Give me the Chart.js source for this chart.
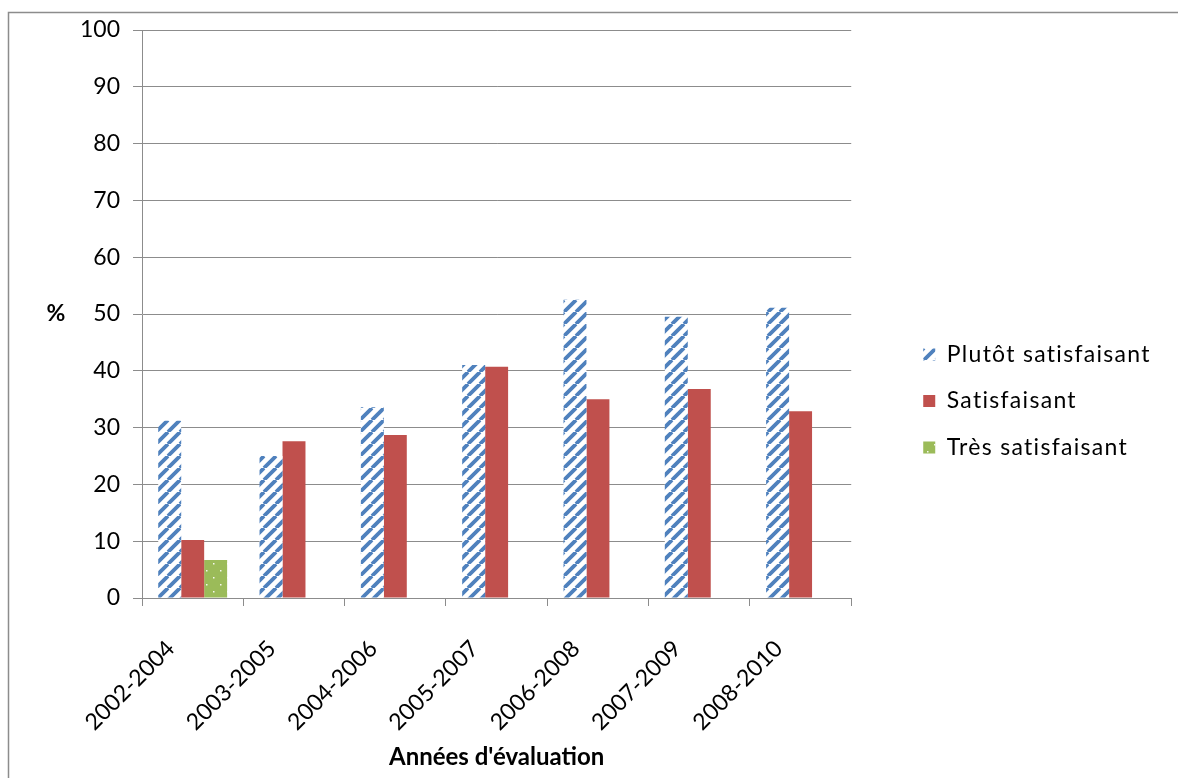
<!DOCTYPE html>
<html>
<head>
<meta charset="utf-8">
<script src="https://cdn.jsdelivr.net/npm/chart.js@4/dist/chart.umd.min.js"></script>
<style>
  html, body { margin: 0; padding: 0; background: #fff; }
  #wrap { width: 1178px; height: 778px; }
</style>
</head>
<body>
<div id="wrap"><canvas id="c" width="1178" height="778"></canvas></div>
<script>
// Evaluation periods and the share (%) of programmes in each rating
const categories = ['2002-2004', '2003-2005', '2004-2006', '2005-2007', '2006-2008', '2007-2009', '2008-2010'];
const plutotSatisfaisant = [31.2, 25.0, 33.6, 41.0, 52.5, 49.5, 51.1];
const satisfaisant = [10.2, 27.6, 28.7, 40.7, 35.0, 36.8, 32.9];
const tresSatisfaisant = [6.7, null, null, null, null, null, null];
const seriesNames = ['Plutôt satisfaisant', 'Satisfaisant', 'Très satisfaisant'];
const yTicks = [0, 10, 20, 30, 40, 50, 60, 70, 80, 90, 100];

const FONT = 'Lato, "Open Sans", sans-serif';
const FONT_SIZE = 23;
const GRID = '#8c8c8c';

// Blue "/" stripes on white
function stripePattern() {
  const s = 12;
  const c = document.createElement('canvas');
  c.width = s; c.height = s;
  const g = c.getContext('2d');
  g.fillStyle = '#ffffff';
  g.fillRect(0, 0, s, s);
  g.strokeStyle = '#4f81bd';
  g.lineWidth = 3.8;
  g.beginPath();
  for (const o of [-s, 0, s]) {
    g.moveTo(o, s);
    g.lineTo(o + s, 0);
  }
  g.stroke();
  return g.createPattern(c, 'repeat');
}

// Green fill with sparse white dots
function dotPattern() {
  const s = 14;
  const c = document.createElement('canvas');
  c.width = s; c.height = s;
  const g = c.getContext('2d');
  g.fillStyle = '#9bbb59';
  g.fillRect(0, 0, s, s);
  g.fillStyle = 'rgba(255,255,255,0.9)';
  g.fillRect(3, 3, 1.5, 1.5);
  g.fillRect(10, 10, 1.5, 1.5);
  return g.createPattern(c, 'repeat');
}

const ctx = document.getElementById('c').getContext('2d');
const stripes = stripePattern();
const dots = dotPattern();

// Page frame, horizontal "%" axis label and legend placement / spacing
const decorations = {
  id: 'decorations',
  afterLayout(chart) {
    const lg = chart.legend;
    if (!lg) return;
    const d = (chart.chartArea.right + 72) - (lg.left + lg.options.labels.padding);
    lg.left += d;
    lg.right = chart.width - 1;
    lg.width = lg.right - lg.left;
    if (!lg._spacedDraw) {
      const baseDraw = lg.draw.bind(lg);
      lg.draw = function (area) {
        const c = this.ctx;
        c.save();
        c.letterSpacing = '1.3px';
        baseDraw(area);
        c.restore();
      };
      lg._spacedDraw = true;
    }
  },
  beforeDraw(chart) {
    const c = chart.ctx;
    c.save();
    c.fillStyle = '#ffffff';
    c.fillRect(0, 0, chart.width, chart.height);
    c.strokeStyle = '#8c8c8c';
    c.lineWidth = 1.5;
    c.beginPath();
    c.moveTo(8.5, chart.height);
    c.lineTo(8.5, 12.5);
    c.lineTo(chart.width, 12.5);
    c.stroke();
    c.restore();
  },
  afterDraw(chart) {
    const c = chart.ctx;
    const a = chart.chartArea;
    c.save();
    c.fillStyle = '#000';
    c.font = 'bold ' + FONT_SIZE + 'px ' + FONT;
    c.textAlign = 'center';
    c.textBaseline = 'middle';
    c.fillText('%', 56, (a.top + a.bottom) / 2);
    c.restore();
  }
};

new Chart(ctx, {
  type: 'bar',
  data: {
    labels: categories,
    datasets: [
      { label: seriesNames[0], data: plutotSatisfaisant, backgroundColor: stripes },
      { label: seriesNames[1], data: satisfaisant, backgroundColor: '#c0504d' },
      { label: seriesNames[2], data: tresSatisfaisant, backgroundColor: dots }
    ]
  },
  options: {
    responsive: false,
    animation: false,
    devicePixelRatio: 1,
    categoryPercentage: 0.68,
    barPercentage: 1.0,
    layout: { padding: { left: 67, top: 30, right: 90, bottom: 6 } },
    plugins: {
      title: { display: false },
      tooltip: { enabled: false },
      legend: {
        position: 'right',
        align: 'center',
        labels: {
          boxWidth: 12,
          boxHeight: 12,
          padding: 23.5,
          color: '#000',
          font: { family: FONT, size: FONT_SIZE }
        }
      }
    },
    scales: {
      x: {
        afterFit(scale) { scale.height = 174; },
        grid: {
          display: true,
          drawOnChartArea: false,
          drawTicks: true,
          tickLength: 8,
          color: GRID,
          offset: true
        },
        border: { display: true, color: GRID },
        ticks: {
          color: '#000',
          font: { family: FONT, size: FONT_SIZE },
          minRotation: 45,
          maxRotation: 45,
          padding: 29,
          labelOffset: -22
        },
        title: {
          display: true,
          text: "Années d'évaluation",
          color: '#000',
          font: { family: FONT, size: 24, weight: 'bold' },
          padding: { top: 15, bottom: 0 }
        }
      },
      y: {
        min: 0,
        max: 100,
        afterBuildTicks(axis) { axis.ticks = yTicks.map(v => ({ value: v })); },
        grid: { color: GRID, tickLength: 9, drawTicks: true },
        border: { display: true, color: GRID },
        ticks: {
          color: '#000',
          font: { family: FONT, size: FONT_SIZE },
          padding: 13
        }
      }
    }
  },
  plugins: [decorations]
});
</script>
</body>
</html>
